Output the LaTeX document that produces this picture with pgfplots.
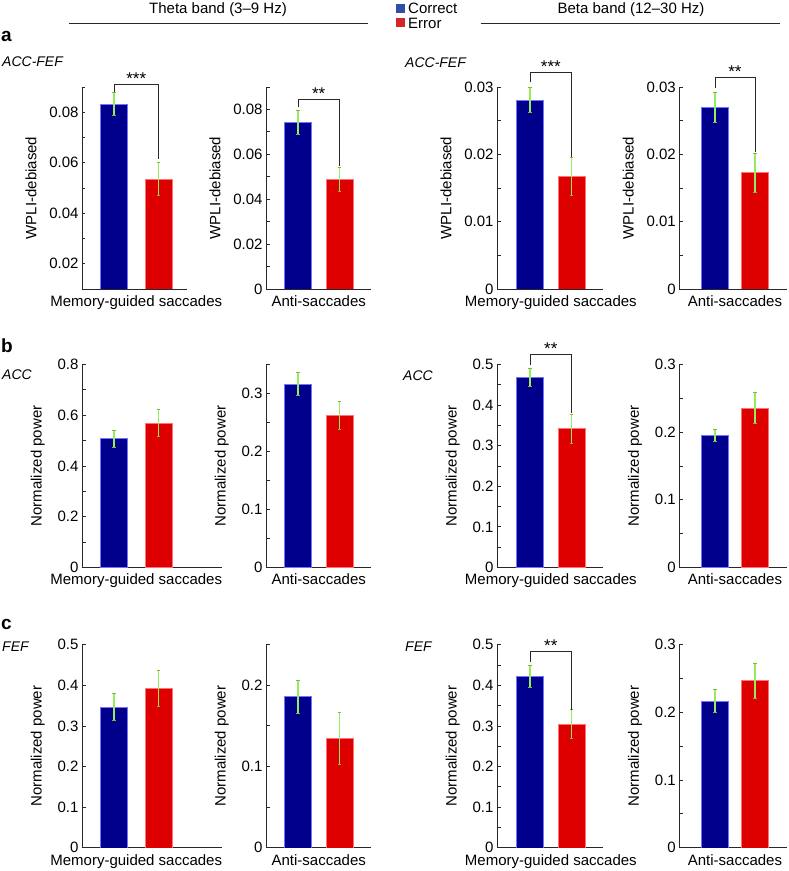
\documentclass[border=0pt]{standalone}
\usepackage{pgfplots}
\pgfplotsset{compat=1.18}
\usepackage{fontspec}
\setmainfont{Liberation Sans}

\definecolor{barblue}{RGB}{0,0,140}
\definecolor{barred}{RGB}{222,0,0}
\definecolor{errgreen}{RGB}{150,236,95}
\definecolor{errcap}{RGB}{130,185,50}
\definecolor{legblue}{RGB}{48,78,168}
\definecolor{legred}{RGB}{212,38,42}
\definecolor{axgray}{RGB}{40,40,40}

\newcommand\fs{\fontsize{15}{18}\selectfont}

\tikzset{
  brk/.style={axgray, line width=0.8pt},
  star/.style={anchor=base, inner sep=0pt, yshift=0pt, font=\fontsize{17}{19}\selectfont},
}

\pgfplotsset{
  panel/.style={
    scale only axis, anchor=south west, ybar,
    axis x line*=bottom, axis y line*=left,
    axis line style={-, line width=0.8pt, axgray},
    tick align=inside, major tick length=3.5pt,
    tick style={axgray, line width=0.8pt},
    xtick={1.5}, xtick style={draw=none},
    scaled y ticks=false,
    clip mode=individual,
    tick label style={font=\fs},
    xticklabel style={yshift=-3pt},
    label style={font=\fs},
    ylabel shift=6pt,
  },
  col1a/.style={width=105pt, xmin=0.28, xmax=2.64, xticklabels={Memory-guided saccades}},
  col1/.style={width=140pt, xmin=0.28, xmax=3.43, xticklabels={Memory-guided saccades}},
  col2/.style={width=105pt, xmin=0.229, xmax=2.759, xticklabels={Anti-saccades}},
  col3/.style={width=105.7pt, xmin=0.209, xmax=2.743, xticklabels={Memory-guided saccades}},
  col4/.style={width=108pt, xmin=0.108, xmax=2.81, xticklabels={Anti-saccades}},
  cbar/.style={fill=barblue, draw=blue!55!white, line width=0.4pt, bar shift=0pt, bar width=27pt,
    error bars/y dir=both, error bars/y explicit,
    error bars/error bar style={errgreen, line width=1.4pt},
    error bars/error mark options={errcap, rotate=90, mark size=1.6pt, line width=0.7pt}},
  ebar/.style={cbar, fill=barred, draw=red!55!white},
}

\begin{document}
\begin{tikzpicture}[x=1pt, y=1pt, font=\fs]
\useasboundingbox (0,0) rectangle (788,871);

% headers and legend
\node at (218,861) {Theta band (3–9 Hz)};
\draw[line width=0.8pt, axgray] (69,847.7) -- (368,847.7);
\node at (631,861) {Beta band (12–30 Hz)};
\draw[line width=0.8pt, axgray] (480.7,847.7) -- (780,847.7);
\fill[legblue] (396,858) rectangle (405,867);
\node[anchor=base west, inner sep=0pt] at (408,857.7) {Correct};
\fill[legred] (396,844) rectangle (405,853);
\node[anchor=base west, inner sep=0pt] at (408,842.7) {Error};

% panel labels
\node[anchor=base west, inner sep=0pt, font=\fontsize{19}{22}\selectfont\bfseries] at (1,829) {a};
\node[anchor=base west, inner sep=0pt, font=\fontsize{14}{16}\selectfont\itshape] at (2,804) {ACC-FEF};
\node[anchor=base west, inner sep=0pt, font=\fontsize{14}{16}\selectfont\itshape] at (405,803) {ACC-FEF};
\node[anchor=base west, inner sep=0pt, font=\fontsize{19}{22}\selectfont\bfseries] at (1,518) {b};
\node[anchor=base west, inner sep=0pt, font=\fontsize{14}{16}\selectfont\itshape] at (2,491) {ACC};
\node[anchor=base west, inner sep=0pt, font=\fontsize{14}{16}\selectfont\itshape] at (403,490) {ACC};
\node[anchor=base west, inner sep=0pt, font=\fontsize{19}{22}\selectfont\bfseries] at (1,241) {c};
\node[anchor=base west, inner sep=0pt, font=\fontsize{14}{16}\selectfont\itshape] at (2,219) {FEF};
\node[anchor=base west, inner sep=0pt, font=\fontsize{14}{16}\selectfont\itshape] at (405,219) {FEF};

% ---------- row a: WPLI ----------
\begin{axis}[panel, col1a, at={(82pt,582pt)}, height=202pt,
  ymin=0.01, ymax=0.09,
  ytick={0.01,0.02,0.03,0.04,0.05,0.06,0.07,0.08,0.09},
  yticklabels={,0.02,,0.04,,0.06,,0.08,},
  ylabel={WPLI-debiased}]
\addplot[cbar] coordinates {(1,0.0832) +- (0,0.0045)};
\addplot[ebar] coordinates {(2,0.0536) +- (0,0.0065)};
\draw[brk] (axis cs:1,0.0882) |- (axis cs:2,0.0909) -- (axis cs:2,0.0615);
\node[star] at (axis cs:1.5,0.0909) {***};
\end{axis}

\begin{axis}[panel, col2, at={(266pt,582pt)}, height=202pt,
  ymin=0, ymax=0.09,
  ytick={0,0.01,0.02,0.03,0.04,0.05,0.06,0.07,0.08,0.09},
  yticklabels={0,,0.02,,0.04,,0.06,,0.08,},
  ylabel={WPLI-debiased}]
\addplot[cbar] coordinates {(1,0.0743) +- (0,0.0052)};
\addplot[ebar] coordinates {(2,0.0488) +- (0,0.0054)};
\draw[brk] (axis cs:1,0.0809) |- (axis cs:2,0.0845) -- (axis cs:2,0.0547);
\node[star] at (axis cs:1.5,0.0845) {**};
\end{axis}

\begin{axis}[panel, col3, at={(497pt,582pt)}, height=202pt,
  ymin=0, ymax=0.03,
  ytick={0,0.005,0.01,0.015,0.02,0.025,0.03},
  yticklabels={0,,0.01,,0.02,,0.03},
  ylabel={WPLI-debiased}]
\addplot[cbar] coordinates {(1,0.0281) +- (0,0.0019)};
\addplot[ebar] coordinates {(2,0.0167) +- (0,0.0028)};
\draw[brk] (axis cs:1,0.0307) |- (axis cs:2,0.0322) -- (axis cs:2,0.0196);
\node[star] at (axis cs:1.5,0.0322) {***};
\end{axis}

\begin{axis}[panel, col4, at={(679.3pt,582pt)}, height=202pt,
  ymin=0, ymax=0.03,
  ytick={0,0.005,0.01,0.015,0.02,0.025,0.03},
  yticklabels={0,,0.01,,0.02,,0.03},
  ylabel={WPLI-debiased}]
\addplot[cbar] coordinates {(1,0.0270) +- (0,0.0022)};
\addplot[ebar] coordinates {(2,0.0173) +- (0,0.0029)};
\draw[brk] (axis cs:1,0.0299) |- (axis cs:2,0.0314) -- (axis cs:2,0.0204);
\node[star] at (axis cs:1.5,0.0314) {**};
\end{axis}

% ---------- row b: ACC power ----------
\begin{axis}[panel, col1, at={(82pt,303.5pt)}, height=203pt,
  ymin=0, ymax=0.8,
  ytick={0,0.1,0.2,0.3,0.4,0.5,0.6,0.7,0.8},
  yticklabels={0,,0.2,,0.4,,0.6,,0.8},
  ylabel={Normalized power}]
\addplot[cbar] coordinates {(1,0.508) +- (0,0.034)};
\addplot[ebar] coordinates {(2,0.570) +- (0,0.053)};
\end{axis}

\begin{axis}[panel, col2, at={(266pt,303.5pt)}, height=203pt,
  ymin=0, ymax=0.35,
  ytick={0,0.05,0.1,0.15,0.2,0.25,0.3,0.35},
  yticklabels={0,,0.1,,0.2,,0.3,},
  ylabel={Normalized power}]
\addplot[cbar] coordinates {(1,0.316) +- (0,0.020)};
\addplot[ebar] coordinates {(2,0.262) +- (0,0.024)};
\end{axis}

\begin{axis}[panel, col3, at={(497pt,303.5pt)}, height=203pt,
  ymin=0, ymax=0.5,
  ytick={0,0.05,0.1,0.15,0.2,0.25,0.3,0.35,0.4,0.45,0.5},
  yticklabels={0,,0.1,,0.2,,0.3,,0.4,,0.5},
  ylabel={Normalized power}]
\addplot[cbar] coordinates {(1,0.468) +- (0,0.023)};
\addplot[ebar] coordinates {(2,0.342) +- (0,0.036)};
\draw[brk] (axis cs:1,0.4995) |- (axis cs:2,0.524) -- (axis cs:2,0.381);
\node[star] at (axis cs:1.5,0.524) {**};
\end{axis}

\begin{axis}[panel, col4, at={(679.3pt,303.5pt)}, height=203pt,
  ymin=0, ymax=0.3,
  ytick={0,0.05,0.1,0.15,0.2,0.25,0.3},
  yticklabels={0,,0.1,,0.2,,0.3},
  ylabel={Normalized power}]
\addplot[cbar] coordinates {(1,0.195) +- (0,0.009)};
\addplot[ebar] coordinates {(2,0.236) +- (0,0.023)};
\end{axis}

% ---------- row c: FEF power ----------
\begin{axis}[panel, col1, at={(82pt,23.3pt)}, height=203pt,
  ymin=0, ymax=0.5,
  ytick={0,0.1,0.2,0.3,0.4,0.5},
  yticklabels={0,0.1,0.2,0.3,0.4,0.5},
  ylabel={Normalized power}]
\addplot[cbar] coordinates {(1,0.347) +- (0,0.033)};
\addplot[ebar] coordinates {(2,0.393) +- (0,0.045)};
\end{axis}

\begin{axis}[panel, col2, at={(266pt,23.3pt)}, height=203pt,
  ymin=0, ymax=0.25,
  ytick={0,0.05,0.1,0.15,0.2,0.25},
  yticklabels={0,,0.1,,0.2,},
  ylabel={Normalized power}]
\addplot[cbar] coordinates {(1,0.186) +- (0,0.020)};
\addplot[ebar] coordinates {(2,0.135) +- (0,0.032)};
\end{axis}

\begin{axis}[panel, col3, at={(497pt,23.3pt)}, height=203pt,
  ymin=0, ymax=0.5,
  ytick={0,0.05,0.1,0.15,0.2,0.25,0.3,0.35,0.4,0.45,0.5},
  yticklabels={0,,0.1,,0.2,,0.3,,0.4,,0.5},
  ylabel={Normalized power}]
\addplot[cbar] coordinates {(1,0.422) +- (0,0.027)};
\addplot[ebar] coordinates {(2,0.305) +- (0,0.036)};
\draw[brk] (axis cs:1,0.4568) |- (axis cs:2,0.4825) -- (axis cs:2,0.340);
\node[star] at (axis cs:1.5,0.4825) {**};
\end{axis}

\begin{axis}[panel, col4, at={(679.3pt,23.3pt)}, height=203pt,
  ymin=0, ymax=0.3,
  ytick={0,0.05,0.1,0.15,0.2,0.25,0.3},
  yticklabels={0,,0.1,,0.2,,0.3},
  ylabel={Normalized power}]
\addplot[cbar] coordinates {(1,0.217) +- (0,0.0175)};
\addplot[ebar] coordinates {(2,0.247) +- (0,0.026)};
\end{axis}
\end{tikzpicture}
\end{document}
